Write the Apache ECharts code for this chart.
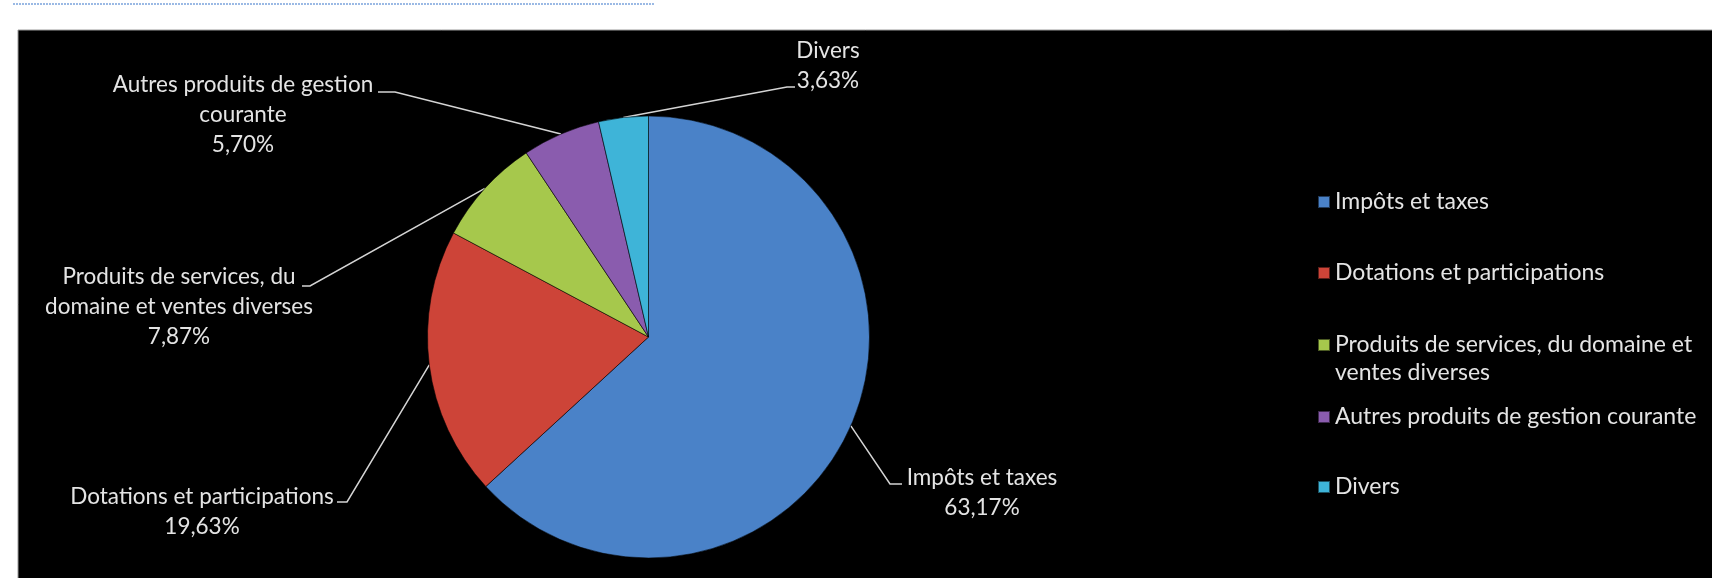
<!DOCTYPE html>
<html>
<head>
<meta charset="utf-8">
<script src="https://cdn.jsdelivr.net/npm/echarts@6/dist/echarts.min.js"></script>
<style>
  html, body { margin: 0; padding: 0; background: #ffffff; }
  #chart { width: 1712px; height: 578px; }
</style>
</head>
<body>
<div id="chart"></div>
<script>
// ---- data ----
const categories = [
  'Impôts et taxes',
  'Dotations et participations',
  'Produits de services, du domaine et ventes diverses',
  'Autres produits de gestion courante',
  'Divers'
];
const values = [63.17, 19.63, 7.87, 5.70, 3.63];
const labelTexts = [
  'Impôts et taxes',
  'Dotations et participations',
  'Produits de services, du\ndomaine et ventes diverses',
  'Autres produits de gestion\ncourante',
  'Divers'
];
const legendTexts = [
  'Impôts et taxes',
  'Dotations et participations',
  '\nProduits de services, du domaine et\nventes diverses',
  'Autres produits de gestion courante',
  'Divers'
];
const colors = ['#4a82c8', '#cd4438', '#a6c84c', '#8a5cae', '#3eb4d8'];

// ---- layout (label placement, not data) ----
const LINE_H = 30;
const labelAnchor = [[982, 478], [202, 497], [179, 277], [243, 85], [828, 51]];
const lineElbow  = [[890, 484], [347, 502], [310, 286], [395, 92], [787, 87]];
const lineEnd    = [[902, 484], [337, 502], [302, 286], [378, 92], [795, 87]];
const legendTop  = [188, 259, 303, 403, 473];

const fmtPct = v => v.toFixed(2).replace('.', ',') + '%';
const FONT = 'Lato, "Open Sans", sans-serif';
const TXT = '#e4e4e4';

const chart = echarts.init(document.getElementById('chart'), null, { renderer: 'canvas' });

chart.setOption({
  backgroundColor: '#ffffff',
  animation: false,
  graphic: [
    { type: 'line', z: 0, silent: true,
      shape: { x1: 13, y1: 4, x2: 655, y2: 4 },
      style: { stroke: '#7aa3dc', lineWidth: 1.5, lineDash: [2, 1] } },
    { type: 'rect', z: 0, silent: true,
      shape: { x: 18, y: 30, width: 1700, height: 560 },
      style: { fill: '#000000', stroke: '#9a9a9a', lineWidth: 1 } }
  ],
  legend: categories.map((name, i) => ({
    data: [name],
    orient: 'vertical',
    left: 1317,
    top: legendTop[i],
    padding: 0,
    icon: 'rect',
    itemWidth: 12,
    itemHeight: 12,
    selectedMode: false,
    formatter: () => legendTexts[i],
    textStyle: {
      color: TXT, fontFamily: FONT, fontSize: 23, lineHeight: 28
    }
  })),
  series: [{
    type: 'pie',
    center: [648.5, 337],
    radius: 221,
    startAngle: 90,
    clockwise: true,
    avoidLabelOverlap: false,
    emphasis: { disabled: true },
    itemStyle: { borderColor: 'rgba(0,0,0,0.55)', borderWidth: 1 },
    data: categories.map((name, i) => ({
      name: name, value: values[i], itemStyle: { color: colors[i] }
    })),
    label: {
      show: true,
      position: 'outside',
      overflow: 'none',
      color: TXT,
      fontFamily: FONT,
      fontSize: 22.5,
      lineHeight: LINE_H,
      align: 'center',
      formatter: p => labelTexts[p.dataIndex] + '\n' + fmtPct(p.value)
    },
    labelLine: {
      show: true,
      length: 20,
      length2: 10,
      lineStyle: { color: '#d4d4d4', width: 1.5 }
    },
    labelLayout: function (params) {
      const i = params.dataIndex;
      const a = labelAnchor[i];
      const start = params.labelLinePoints ? params.labelLinePoints[0] : lineElbow[i];
      return {
        x: a[0],
        y: a[1] - LINE_H / 2,
        align: 'center',
        verticalAlign: 'top',
        labelLinePoints: [[start[0], start[1]], lineElbow[i], lineEnd[i]]
      };
    }
  }]
});
</script>
</body>
</html>
